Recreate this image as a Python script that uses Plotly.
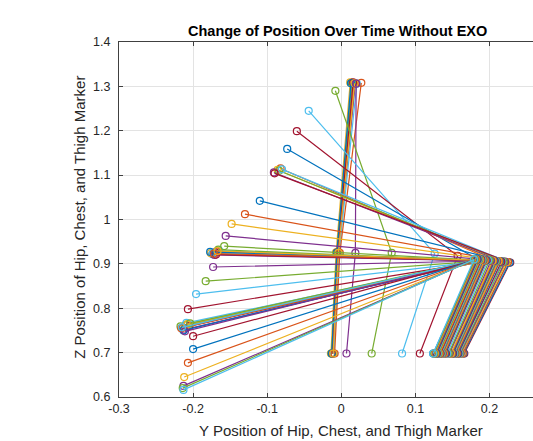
import plotly.graph_objects as go

# ---- data: one frame per trace, points are [thigh, hip, chest] ----
chest_y = [0.014, 0.017, 0.012, 0.019, 0.015, 0.021, 0.016, 0.013, 0.027, 0.018, 0.020,
           -0.008, -0.044, -0.060, -0.073,
           -0.082, -0.086, -0.091, -0.084, -0.080, -0.090,
           -0.110, -0.130, -0.148, -0.156, -0.158,
           -0.165, -0.170, -0.174, -0.168, -0.176, -0.171, -0.166, -0.173, -0.169, -0.177, -0.172, -0.167,
           -0.173, -0.183, -0.196, -0.207,
           -0.210, -0.214, -0.207, -0.212, -0.217, -0.209, -0.205, -0.213, -0.216, -0.208, -0.211, -0.204, -0.215,
           -0.200, -0.200, -0.207, -0.212, -0.213, -0.214, -0.213]
chest_z = [1.308, 1.306, 1.309, 1.307, 1.308, 1.306, 1.309, 1.307, 1.308, 1.307, 1.306,
           1.290, 1.245, 1.199, 1.159,
           1.115, 1.112, 1.106, 1.110, 1.113, 1.104,
           1.042, 1.012, 0.990, 0.963, 0.940,
           0.930, 0.926, 0.922, 0.928, 0.924, 0.920, 0.932, 0.925, 0.921, 0.927, 0.923, 0.929,
           0.893, 0.861, 0.832, 0.798,
           0.762, 0.756, 0.765, 0.752, 0.759, 0.767, 0.760, 0.750, 0.755, 0.763, 0.748, 0.766, 0.757,
           0.737, 0.708, 0.677, 0.645, 0.625, 0.620, 0.616]
hip_y = [-0.006, -0.005, -0.007, -0.004, -0.006, -0.003, -0.005, -0.006, -0.002, -0.004, 0.019,
         0.068, 0.126, 0.157, 0.182,
         0.205, 0.212, 0.218, 0.222, 0.225, 0.228,
         0.227, 0.225, 0.223, 0.221, 0.219,
         0.217, 0.216, 0.214, 0.213, 0.212, 0.210, 0.209, 0.208, 0.207, 0.206, 0.205, 0.204,
         0.202, 0.200, 0.198, 0.196,
         0.195, 0.194, 0.193, 0.192, 0.191, 0.190, 0.189, 0.188, 0.188, 0.187, 0.186, 0.186, 0.185,
         0.184, 0.183, 0.182, 0.181, 0.180, 0.180, 0.179]
hip_z = [0.926, 0.925, 0.926, 0.925, 0.925, 0.924, 0.926, 0.925, 0.925, 0.925, 0.925,
         0.925, 0.923, 0.918, 0.912,
         0.908, 0.906, 0.905, 0.904, 0.904, 0.903,
         0.903, 0.904, 0.904, 0.905, 0.905,
         0.905, 0.905, 0.906, 0.906, 0.906, 0.906, 0.906, 0.907, 0.907, 0.907, 0.907, 0.907,
         0.907, 0.908, 0.908, 0.908,
         0.908, 0.908, 0.908, 0.909, 0.909, 0.909, 0.909, 0.909, 0.909, 0.909, 0.910, 0.910, 0.910,
         0.910, 0.910, 0.910, 0.910, 0.910, 0.910, 0.910]
thigh_y = [-0.013, -0.012, -0.014, -0.011, -0.013, -0.010, -0.012, -0.013, -0.009, -0.011, 0.007,
           0.041, 0.082, 0.106, 0.124,
           0.145, 0.150, 0.156, 0.160, 0.163, 0.166,
           0.165, 0.164, 0.162, 0.161, 0.160,
           0.159, 0.158, 0.157, 0.156, 0.155, 0.154, 0.153, 0.152, 0.151, 0.150, 0.149, 0.148,
           0.146, 0.145, 0.143, 0.141,
           0.140, 0.139, 0.138, 0.137, 0.136, 0.135, 0.134, 0.133, 0.133, 0.132, 0.131, 0.131, 0.130,
           0.129, 0.128, 0.127, 0.126, 0.125, 0.125, 0.124]
thigh_z = [0.698] * 62

colors = ["#0072BD", "#D95319", "#EDB120", "#7E2F8E", "#77AC30", "#4DBEEE", "#A2142F"]

x_ticks = [-0.3, -0.2, -0.1, 0, 0.1, 0.2]
x_ticktext = ["-0.3", "-0.2", "-0.1", "0", "0.1", "0.2"]
y_ticks = [0.6, 0.7, 0.8, 0.9, 1.0, 1.1, 1.2, 1.3, 1.4]
y_ticktext = ["0.6", "0.7", "0.8", "0.9", "1", "1.1", "1.2", "1.3", "1.4"]

title_text = "Change of Position Over Time Without EXO"
xlabel = "Y Position of Hip, Chest, and Thigh Marker"
ylabel = "Z Position of Hip, Chest, and Thigh Marker"

fig = go.Figure()
for i in range(len(chest_y)):
    c = colors[i % len(colors)]
    fig.add_trace(go.Scatter(
        x=[thigh_y[i], hip_y[i], chest_y[i]],
        y=[thigh_z[i], hip_z[i], chest_z[i]],
        mode="lines+markers",
        line=dict(color=c, width=1.2),
        marker=dict(symbol="circle-open", size=7, color=c, line=dict(width=1.2, color=c)),
        showlegend=False,
        hoverinfo="skip",
    ))

axis_col = "#404040"
font_fam = "Liberation Sans, Arial, sans-serif"
fig.update_layout(
    width=533, height=441,
    margin=dict(l=119, r=0, t=42, b=44),
    paper_bgcolor="white", plot_bgcolor="white",
    font=dict(family=font_fam, color="#262626", size=12),
    xaxis=dict(range=[-0.3, 0.2587], tickvals=x_ticks, ticktext=x_ticktext,
               showgrid=True, gridcolor="#e3e3e3", gridwidth=1,
               showline=True, linecolor=axis_col, linewidth=1, mirror="ticks",
               ticks="inside", ticklen=4, tickcolor=axis_col,
               tickfont=dict(size=12.5, color="#262626"), zeroline=False),
    yaxis=dict(range=[0.6, 1.4], tickvals=y_ticks, ticktext=y_ticktext,
               showgrid=True, gridcolor="#e3e3e3", gridwidth=1,
               showline=True, linecolor=axis_col, linewidth=1,
               ticks="inside", ticklen=4, tickcolor=axis_col, ticklabelstandoff=5,
               tickfont=dict(size=12.5, color="#262626"), zeroline=False),
    annotations=[
        dict(text="<b>" + title_text + "</b>", xref="paper", yref="paper",
             x=0.527, y=1.032, xanchor="center", yanchor="middle", showarrow=False,
             font=dict(size=14.5, color="#000000", family=font_fam)),
        dict(text=xlabel, xref="paper", yref="paper",
             x=0.536, y=-0.093, xanchor="center", yanchor="middle", showarrow=False,
             font=dict(size=15, color="#262626", family=font_fam)),
        dict(text=ylabel, xref="paper", yref="paper", textangle=-90,
             x=-0.094, y=0.505, xanchor="center", yanchor="middle", showarrow=False,
             font=dict(size=15, color="#262626", family=font_fam)),
    ],
)
fig.write_html("out.html", config={"displayModeBar": False},
               post_script="document.body.style.margin='0';document.body.style.overflow='hidden';")
